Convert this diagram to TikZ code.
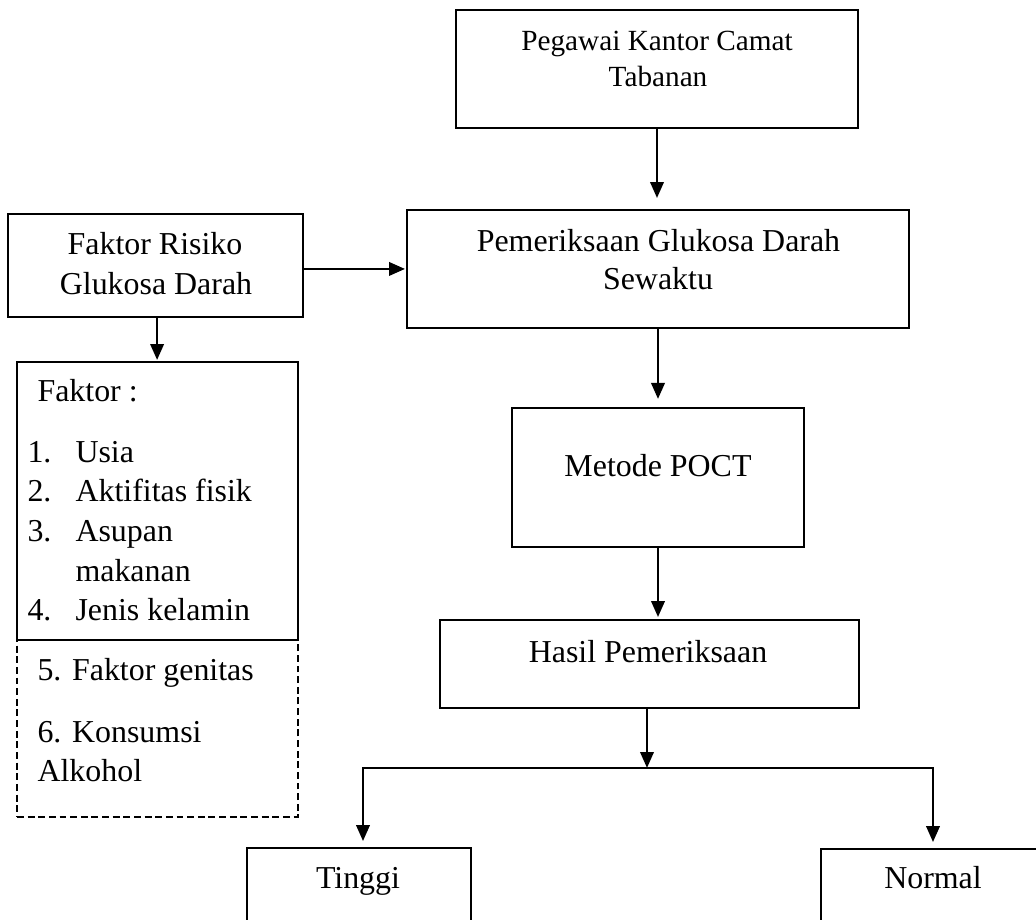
\documentclass[tikz,border=0pt]{standalone}
\usepackage{fontspec}
\setmainfont{Liberation Serif}
\usetikzlibrary{arrows.meta}
\begin{document}
\begin{tikzpicture}[x=0.376pt,y=-0.376pt,
  box/.style={draw,line width=1pt,inner sep=0pt,outer sep=0pt},
  dbox/.style={box,dash pattern=on 2.6pt off 1.4pt},
  txt/.style={inner sep=0pt,anchor=base,font=\fontsize{12}{14.4}\selectfont},
  ltxt/.style={txt,anchor=base west},
  stxt/.style={txt,font=\fontsize{11}{13.2}\selectfont},
  arr/.style={line width=1pt,-{Triangle[length=6pt,width=5pt]}}]
\useasboundingbox (0,0) rectangle (1036,920);
\clip (0,0) rectangle (1036,920);
% boxes
\node[box,minimum width=151.15pt,minimum height=44.37pt] (peg) at (657,69) {};
\node[box,minimum width=188.75pt,minimum height=44.37pt] (pem) at (658,269) {};
\node[box,minimum width=110.92pt,minimum height=38.73pt] (fr) at (155.5,265.5) {};
\node[dbox,minimum width=105.66pt,minimum height=66.55pt] (fak2) at (157.5,728.5) {};
\node[box,minimum width=105.66pt,minimum height=104.53pt] (fak) at (157.5,501) {};
\node[box,minimum width=109.79pt,minimum height=52.26pt] (met) at (658,477.5) {};
\node[box,minimum width=157.54pt,minimum height=33.09pt] (has) at (649.5,664) {};
\node[box,minimum width=84.22pt,minimum height=42.11pt] (tin) at (359,904) {};
\node[box,minimum width=90.24pt,minimum height=42.11pt] (nor) at (941,905) {};
% texts
\node[stxt] (t1) at (657,51) {Pegawai Kantor Camat};
\node[stxt] (t2) at (658,87) {Tabanan};
\node[txt] (t3) at (658.5,252) {Pemeriksaan Glukosa Darah};
\node[txt] (t4) at (658,290) {Sewaktu};
\node[txt] (t5) at (155,255) {Faktor Risiko};
\node[txt] (t6) at (156,295) {Glukosa Darah};
\node[ltxt] (f0) at (37,402) {Faktor :};
\node[ltxt] (n1) at (27,463) {1.};
\node[ltxt] (i1) at (75,463) {Usia};
\node[ltxt] (n2) at (27,502) {2.};
\node[ltxt] (i2) at (75,502) {Aktifitas fisik};
\node[ltxt] (n3) at (27,542) {3.};
\node[ltxt] (i3) at (75,542) {Asupan};
\node[ltxt] (i3b) at (75,582) {makanan};
\node[ltxt] (n4) at (27,621) {4.};
\node[ltxt] (i4) at (75,621) {Jenis kelamin};
\node[ltxt] (i5) at (37,681) {5. Faktor genitas};
\node[ltxt] (i6) at (37,743) {6. Konsumsi};
\node[ltxt] (i6b) at (37,782) {Alkohol};
\node[txt] (t7) at (658,477) {Metode POCT};
\node[txt] (t8) at (648,663) {Hasil Pemeriksaan};
\node[txt] (t9) at (358,889) {Tinggi};
\node[txt] (t10) at (933,889) {Normal};
% connectors
\coordinate (jc) at (647,768);
\coordinate (jl) at (363,768);
\coordinate (jr) at (933,768);
\draw[arr,shorten >=4.5pt] (peg.south) -- (peg.south |- pem.north);
\draw[arr,shorten >=3.4pt] (pem.south) -- (pem.south |- met.north);
\draw[arr,shorten >=1.1pt] (met.south) -- (met.south |- has.north);
\draw[arr,shorten >=0.75pt] ([yshift=-1.3pt]fr.east) -- ([yshift=-1.3pt]fr.east -| pem.west);
\draw[arr,shorten >=0.75pt] ([xshift=0.6pt]fr.south) -- ([xshift=0.6pt]fr.south |- fak.north);
\draw[arr] (has.south -| jc) -- (jc);
\draw[arr,shorten >=2.6pt] (jc) -- (jl) -- (jl |- tin.north);
\draw[arr,shorten >=2.6pt] (jc) -- (jr) -- (jr |- nor.north);
\end{tikzpicture}
\end{document}
